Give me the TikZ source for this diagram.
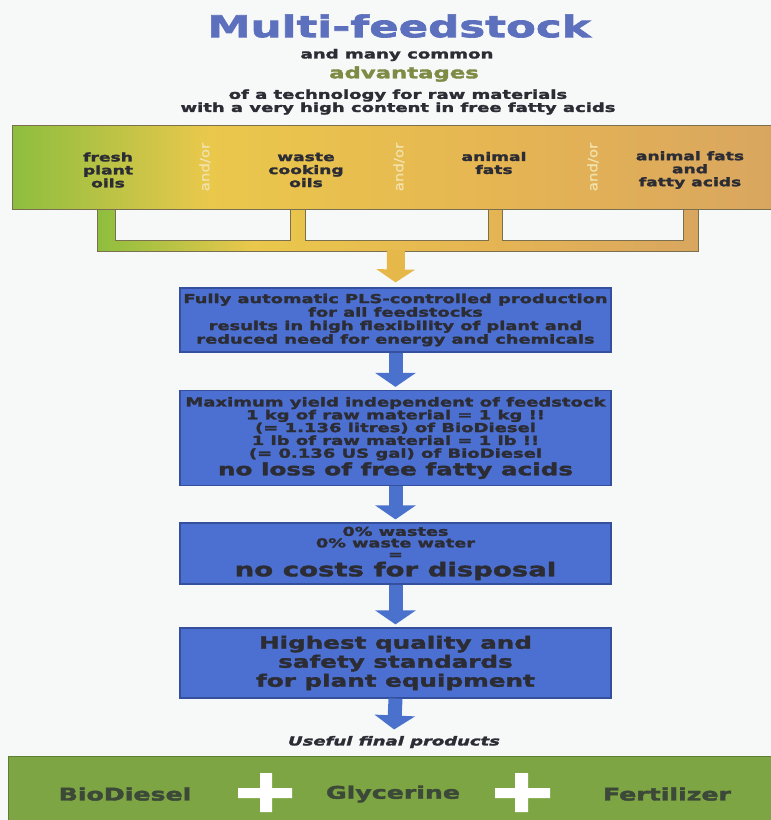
\documentclass[tikz,border=0pt]{standalone}
\usepackage{fontspec}
\usepackage{tikz}
\usetikzlibrary{arrows.meta}

\newfontfamily\heavy[FakeStretch=1.45,FakeBold=2.2]{DejaVu Sans Bold}
\newfontfamily\heavyit[FakeStretch=1.45,FakeBold=2.2]{DejaVu Sans Bold Oblique}
\newfontfamily\thinsans[FakeStretch=1.15,FakeBold=0.8]{DejaVu Sans}

\definecolor{titleblue}{HTML}{5C70BD}
\definecolor{olivetext}{HTML}{7E8B45}
\definecolor{inktext}{HTML}{2C2C34}
\definecolor{bandgreen}{HTML}{8DBE3E}
\definecolor{bandyellow}{HTML}{EAC84C}
\definecolor{bandgold}{HTML}{E6B652}
\definecolor{bandtan}{HTML}{D9A660}
\definecolor{bandedge}{HTML}{7A7050}
\definecolor{orcream}{HTML}{F1E2AC}
\definecolor{boxblue}{HTML}{4C70D2}
\definecolor{boxedge}{HTML}{34509C}
\definecolor{arrowblue}{HTML}{4A72CC}
\definecolor{feedgold}{HTML}{E6B84A}
\definecolor{prodgreen}{HTML}{7DA543}
\definecolor{prodedge}{HTML}{5E7E30}
\definecolor{prodtext}{HTML}{3C4838}
\definecolor{pagebg}{HTML}{F7F9F9}

% the path is fitted to the middle 25bp--75bp of the shading
\pgfdeclarehorizontalshading{bandshade}{100bp}{color(0bp)=(bandgreen); color(25bp)=(bandgreen);
    color(38bp)=(bandyellow); color(56bp)=(bandgold); color(75bp)=(bandtan); color(100bp)=(bandtan)}

\tikzset{
    stepbox/.style={draw=boxedge, line width=1.2pt, fill=boxblue, minimum width=431pt,
        minimum height=#1, align=center, text=inktext, inner sep=0pt},
    feedtext/.style={align=center, text=inktext, font=\heavy\fontsize{11.8}{13}\selectfont},
    ortext/.style={rotate=90, text=orcream, font=\thinsans\fontsize{13}{14}\selectfont},
    flowarrow/.style={draw=arrowblue, line width=14pt, -{Triangle[width=40pt,length=14pt]}, shorten >=3pt},
    feedarrow/.style={draw=feedgold, line width=18pt, -{Triangle[width=38pt,length=13pt]}, shorten >=5pt},
    prodtext/.style={text=prodtext, font=\heavy\fontsize{17.4}{19}\selectfont}
}

\begin{document}
\begin{tikzpicture}[x=1pt, y=-1pt]
    \useasboundingbox[fill=pagebg] (0,0) rectangle (771,820);

    % heading
    \node[font=\heavy\fontsize{30}{34}\selectfont, text=titleblue] (title) at (399,26) {Multi-feedstock};
    \node[font=\heavy\fontsize{12.5}{14}\selectfont, text=inktext] (common) at (397,55) {and many common};
    \node[font=\heavy\fontsize{15.7}{17}\selectfont, text=olivetext] (adv) at (404,74) {advantages};
    \node[font=\heavy\fontsize{12.4}{12}\selectfont, text=inktext, align=center] (techno) at (398,102)
        {of a technology for raw materials\\with a very high content in free fatty acids};

    % feedstocks
    \node[shading=bandshade, draw=bandedge, line width=0.6pt, minimum width=759pt, minimum height=84pt,
        inner sep=0pt] (band) at (391.5,167) {};
    \node[feedtext] (fresh) at (108,170) {fresh\\plant\\oils};
    \node[feedtext] (waste) at (306,170) {waste\\cooking\\oils};
    \node[feedtext] (animal) at (494,163) {animal\\fats};
    \node[feedtext] (acids) at (690,170) {animal fats\\and\\fatty acids};
    \node[ortext] (or1) at (205,167) {and/or};
    \node[ortext] (or2) at (399,167) {and/or};
    \node[ortext] (or3) at (593,167) {and/or};

    \shadedraw[shading=bandshade, draw=bandedge, line width=0.6pt]
        (97,209) -- (97,251) -- (698,251) -- (698,209) -- (683,209) -- (683,240)
        -- (502,240) -- (502,209) -- (488,209) -- (488,240) -- (305,240) -- (305,209)
        -- (290,209) -- (290,240) -- (115,240) -- (115,209) -- cycle;
    \coordinate (combout) at (396,250);

    % advantages
    \node[stepbox=64pt, font=\heavy\fontsize{12.3}{13.5}\selectfont] (auto) at (395.5,320)
        {Fully automatic PLS-controlled production\\for all feedstocks\\results in high flexibility of plant and\\reduced need for energy and chemicals};
    \node[stepbox=95pt, font=\heavy\fontsize{12.4}{12.8}\selectfont] (yield) at (395.5,438)
        {Maximum yield independent of feedstock\\1 kg of raw material = 1 kg !!\\(= 1.136 litres) of BioDiesel\\1 lb of raw material = 1 lb !!\\(= 0.136 US gal) of BioDiesel\\[1pt]
        {\fontsize{17}{19}\selectfont no loss of free fatty acids}};
    \node[stepbox=61pt, font=\heavy\fontsize{12.2}{11.5}\selectfont] (wastes) at (395.5,553.5)
        {0\% wastes\\0\% waste water\\=\\[2pt]{\fontsize{19}{20}\selectfont no costs for disposal}};
    \node[stepbox=70pt, font=\heavy\fontsize{17}{19}\selectfont] (quality) at (395.5,663)
        {Highest quality and\\safety standards\\for plant equipment};

    \node[font=\heavyit\fontsize{12.4}{13}\selectfont, text=inktext] (useful) at (394,742) {Useful final products};

    % products
    \node[fill=prodgreen, draw=prodedge, line width=0.8pt, minimum width=763pt, minimum height=66pt,
        inner sep=0pt] (products) at (389.5,789) {};
    \node[prodtext] (biodiesel) at (125,794) {BioDiesel};
    \node[prodtext] (glycerine) at (393,794) {Glycerine};
    \node[prodtext] (fertilizer) at (667,794) {Fertilizer};
    \fill[white] (238,788) rectangle (292,798) (260,773) rectangle (272,812);
    \fill[white] (495,788) rectangle (550,798) (515,773) rectangle (528,812);

    \draw[feedarrow] (combout) -- (auto.north);
    \draw[flowarrow] (auto.south) -- (yield.north);
    \draw[flowarrow] (yield.south) -- (wastes.north);
    \draw[flowarrow] (wastes.south) -- (quality.north);
    \draw[flowarrow] (quality.south) -- (useful.north);
\end{tikzpicture}
\end{document}
